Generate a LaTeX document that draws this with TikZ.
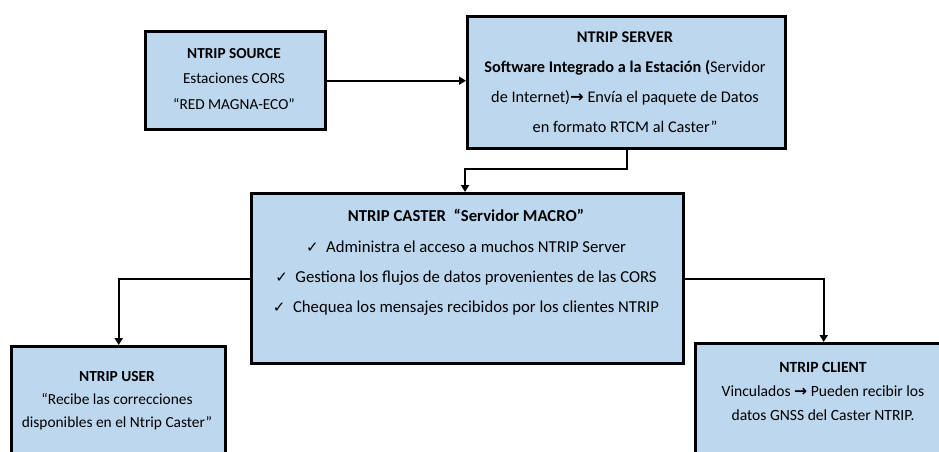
\documentclass[tikz,border=0pt]{standalone}
\usepackage{fontspec}
\setmainfont{Carlito}
\newfontfamily\symfont{DejaVu Sans}
\usetikzlibrary{arrows.meta}
\definecolor{boxblue}{HTML}{BDD7EE}
\newcommand{\arr}{{\symfont\bfseries\char"2192}}
\newcommand{\chk}{{\symfont\fontsize{15}{15}\selectfont\char"2713}}
\tikzset{
  boxrect/.style={draw=black, fill=boxblue, line width=3.4pt},
  boxtext/.style={align=center, inner sep=0pt, text=black},
  conn/.style={draw=black, line width=2pt, -{Triangle[length=7pt,width=8pt]}},
}
\begin{document}
\begin{tikzpicture}[x=1pt,y=-1pt]
\path[use as bounding box, clip] (0,0) rectangle (939,451);
% boxes
\node[boxrect, minimum width=180pt, minimum height=98pt, anchor=north west] (src) at (144,30) {};
\node[boxrect, minimum width=318pt, minimum height=132pt, anchor=north west] (srv) at (466,15) {};
\node[boxrect, minimum width=432pt, minimum height=170pt, anchor=north west] (cst) at (250,192) {};
\node[boxrect, minimum width=214pt, minimum height=140pt, anchor=north west] (usr) at (10,345) {};
\node[boxrect, minimum width=256pt, minimum height=140pt, anchor=north west] (cli) at (694,342) {};
% texts
\node[boxtext, font=\fontsize{15.3}{25.5}\selectfont] (srct) at (234,79)
  {\textbf{NTRIP SOURCE}\\Estaciones CORS\\“RED MAGNA-ECO”};
\node[boxtext, font=\fontsize{16.3}{30}\selectfont] (srvt) at (625,82)
  {\textbf{NTRIP SERVER}\\\textbf{Software Integrado a la Estación (}Servidor\\de Internet)\arr{} Envía el paquete de Datos\\en formato RTCM al Caster”};
\node[boxtext, font=\fontsize{16.7}{30.3}\selectfont] (cstt) at (466,262.5)
  {\textbf{NTRIP CASTER\ \ “Servidor MACRO”}\\\chk\ \ Administra el acceso a muchos NTRIP Server\\\chk\ \ Gestiona los flujos de datos provenientes de las CORS\\\chk\ \ Chequea los mensajes recibidos por los clientes NTRIP};
\node[boxtext, font=\fontsize{15.4}{23}\selectfont] (usrt) at (117,401)
  {\textbf{NTRIP USER}\\“Recibe las correcciones\\disponibles en el Ntrip Caster”};
\node[boxtext, font=\fontsize{15.6}{24}\selectfont] (clit) at (823,391)
  {\textbf{NTRIP CLIENT}\\Vinculados \arr{} Pueden recibir los\\datos GNSS del Caster NTRIP.};
% connectors
\coordinate (k1) at (465,169);
\draw[conn] (src.east) -- (srv.west |- src.east);
\draw[conn] (srv.south) |- (k1) -- (cst.north -| k1);
\draw[conn] (cst.west) -| (usr.north);
\draw[conn] (cst.east) -| (cli.north);
\end{tikzpicture}
\end{document}
